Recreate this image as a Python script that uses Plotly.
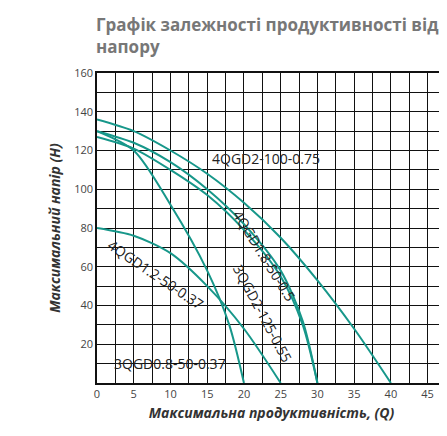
import plotly.graph_objects as go

teal = "#17978a"

# performance curves: flow Q vs head H
q_100_075 = [0, 5, 10, 15, 20, 25, 30, 35, 40]
h_100_075 = [136, 130, 120, 108, 93, 75, 53, 28, 0]

q_18_50 = [0, 5, 10, 15, 20, 25, 28, 30]
h_18_50 = [130, 124, 114, 100, 82, 58, 32, 0]

q_2_125 = [0, 5, 10, 15, 20, 25, 28, 30]
h_2_125 = [127, 121, 110, 97, 79, 55, 30, 0]

q_08_50 = [0, 5, 10, 15, 18, 20]
h_08_50 = [130, 120, 92, 58, 30, 0]

q_12_50 = [0, 5, 10, 15, 20, 25]
h_12_50 = [80, 76, 67, 50, 28, 0]

fig = go.Figure()
for q, h in [(q_100_075, h_100_075), (q_18_50, h_18_50), (q_2_125, h_2_125),
             (q_08_50, h_08_50), (q_12_50, h_12_50)]:
    fig.add_trace(go.Scatter(x=q, y=h, mode="lines",
                             line=dict(color=teal, width=2, shape="spline", smoothing=0.8),
                             showlegend=False, hoverinfo="skip"))

labels = [
    ("4QGD2-100-0.75", 23, 116, 0),
    ("4QGD1.8-50-0.5", 22.8, 66, 58),
    ("3QGD2-125-0.55", 22.6, 36, 62),
    ("4QGD1.2-50-0.37", 8, 56, 34),
    ("3QGD0.8-50-0.37", 10, 10, 0),
]
for txt, x, y, a in labels:
    fig.add_annotation(x=x, y=y, text=txt, showarrow=False, textangle=a,
                       font=dict(family="Open Sans", size=14, color="#222"))

# title as a paper annotation so both lines stay in view
fig.add_annotation(xref="paper", yref="paper", x=-0.01, y=1.2, xanchor="left", yanchor="top",
                   align="left", showarrow=False,
                   text="<b>Графік залежності продуктивності від<br>напору</b>",
                   font=dict(family="Open Sans", size=17, color="#777"))

fig.update_layout(
    width=447, height=436,
    margin=dict(l=89, r=9, t=65, b=61),
    plot_bgcolor="white", paper_bgcolor="white",
    font=dict(family="Open Sans", color="#444", size=11),
)
fig.update_xaxes(range=[0, 47.5], tickvals=list(range(0, 50, 5)), automargin=False,
                 showgrid=True, gridcolor="#111", gridwidth=1.3,
                 minor=dict(dtick=2.5, showgrid=True, gridcolor="#111", gridwidth=1.3),
                 showline=True, linecolor="#111", linewidth=1.5, mirror=True,
                 zeroline=False,
                 title=dict(text="<b><i>Максимальна продуктивність, (Q)</i></b>",
                            font=dict(size=14, color="#333"), standoff=8))
fig.update_yaxes(range=[0, 160], tickvals=list(range(20, 180, 20)), automargin=False,
                 showgrid=True, gridcolor="#111", gridwidth=1.3,
                 minor=dict(dtick=10, showgrid=True, gridcolor="#111", gridwidth=1.3),
                 showline=True, linecolor="#111", linewidth=1.5, mirror=True,
                 zeroline=False,
                 title=dict(text="<b><i>Максимальний напір (H)</i></b>",
                            font=dict(size=14, color="#333"), standoff=10))

fig.write_html("out.html")
